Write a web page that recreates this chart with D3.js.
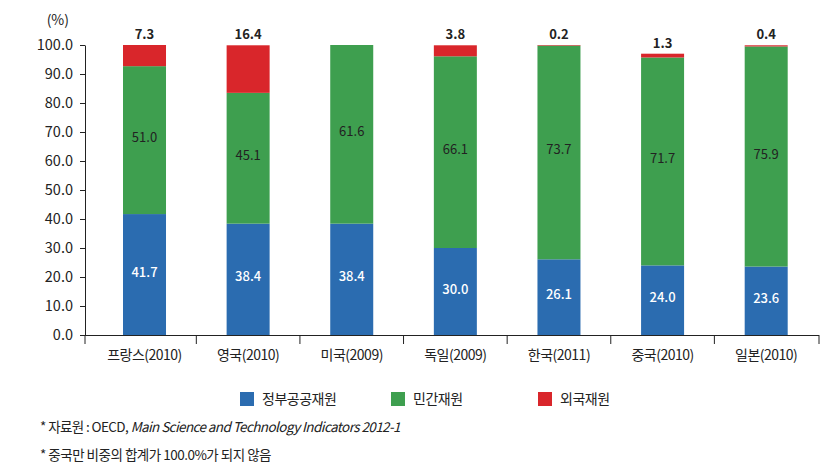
<!DOCTYPE html>
<html><head><meta charset="utf-8">
<script src="https://cdn.jsdelivr.net/npm/d3@7"></script>
<style>
body{margin:0;background:#fff;}
text{font-family:"Noto Sans CJK KR","Noto Sans",sans-serif;}
</style></head>
<body>
<svg id="chart" width="836" height="476"></svg>
<script>
const categories = ["프랑스(2010)","영국(2010)","미국(2009)","독일(2009)","한국(2011)","중국(2010)","일본(2010)"];
const govValues = [41.7,38.4,38.4,30.0,26.1,24.0,23.6];
const privValues = [51.0,45.1,61.6,66.1,73.7,71.7,75.9];
const foreignValues = [7.3,16.4,0,3.8,0.2,1.3,0.4];
const seriesNames = ["정부공공재원","민간재원","외국재원"];
const yTicks = [0,10,20,30,40,50,60,70,80,90,100];
const colors = ["#2b6cb0","#3e9f4f","#d9262b"];

(function(){
const svg = d3.select("#chart");
const mLeft=85, mRight=819, mTop=45, mBottom=335;
const x = d3.scaleBand().domain(categories).range([92.7,818]).paddingInner(0.585).paddingOuter(0.2925);
const y = d3.scaleLinear().domain([0,100]).range([mBottom,mTop]);

const rows = categories.map((c,i)=>({cat:c,gov:govValues[i],priv:privValues[i],foreign:foreignValues[i]}));
const stack = d3.stack().keys(["gov","priv","foreign"])(rows);

svg.append("g").selectAll("g").data(stack).join("g")
  .attr("fill",(d,i)=>colors[i])
  .selectAll("rect").data(d=>d).join("rect")
  .attr("x",d=>x(d.data.cat)).attr("width",x.bandwidth())
  .attr("y",d=>y(d[1])).attr("height",d=>y(d[0])-y(d[1]));

// axes
const yAxis = d3.axisLeft(y).tickValues(yTicks).tickFormat(d3.format(".1f")).tickSize(5).tickSizeOuter(0);
const gy = svg.append("g").attr("transform",`translate(${mLeft},0)`).call(yAxis);
gy.selectAll("text").attr("font-size",14.5).attr("fill","#222").attr("x",-12);
gy.selectAll("line,path").attr("stroke","#222");

const xAxis = d3.axisBottom(x).tickSize(0).tickSizeOuter(0);
const gx = svg.append("g").attr("transform",`translate(0,${mBottom})`).call(xAxis);
gx.selectAll("text").attr("font-size",14).attr("fill","#222").attr("dy","1.6em").attr("letter-spacing","-0.5");
gx.select("path").remove();
svg.append("line").attr("x1",mLeft).attr("x2",mRight).attr("y1",mBottom+0.5).attr("y2",mBottom+0.5).attr("stroke","#222");
// category separator ticks
const seps = categories.map(c=>x(c)-x.step()*x.paddingInner()/2).concat([mRight]);
seps[0]=mLeft;
svg.append("g").selectAll("line").data(seps).join("line")
  .attr("x1",d=>d).attr("x2",d=>d).attr("y1",mBottom).attr("y2",mBottom+9).attr("stroke","#222");

svg.append("text").attr("x",69).attr("y",25).attr("text-anchor","end").attr("font-size",14).attr("fill","#222").text("(%)");

// labels
const cx = d=>x(d.data.cat)+x.bandwidth()/2;
svg.append("g").selectAll("text").data(stack[0]).join("text")
  .attr("x",cx).attr("y",d=>y((d[0]+d[1])/2)+2).attr("text-anchor","middle")
  .attr("font-size",13).attr("fill","#fff").attr("font-weight","500").text(d=>d.data.gov.toFixed(1));
svg.append("g").selectAll("text").data(stack[1]).join("text")
  .attr("x",cx).attr("y",d=>y((d[0]+d[1])/2)+2).attr("text-anchor","middle")
  .attr("font-size",13).attr("fill","#222").text(d=>d.data.priv.toFixed(1));
svg.append("g").selectAll("text").data(stack[2].filter(d=>d.data.foreign>0)).join("text")
  .attr("x",cx).attr("y",d=>y(d[1])-6).attr("text-anchor","middle")
  .attr("font-size",13).attr("fill","#222").attr("font-weight","bold").text(d=>d.data.foreign.toFixed(1));

// legend
const legX=[240,391,538];
const leg = svg.append("g").selectAll("g").data(seriesNames).join("g")
  .attr("transform",(d,i)=>`translate(${legX[i]},392)`);
leg.append("rect").attr("width",14).attr("height",14).attr("fill",(d,i)=>colors[i]);
leg.append("text").attr("x",22).attr("y",12).attr("font-size",14).attr("fill","#222").attr("letter-spacing","-0.5").text(d=>d);

// footnotes
const f1 = svg.append("text").attr("x",40).attr("y",432).attr("font-size",13.5).attr("fill","#222").attr("letter-spacing","-0.6");
f1.append("tspan").text("* 자료원 : OECD, ");
f1.append("tspan").attr("font-style","italic").text("Main Science and Technology Indicators 2012-1");
svg.append("text").attr("x",40).attr("y",460).attr("font-size",13.5).attr("fill","#222").attr("letter-spacing","-0.5").text("* 중국만 비중의 합계가 100.0%가 되지 않음");
})();
</script>
</body></html>
